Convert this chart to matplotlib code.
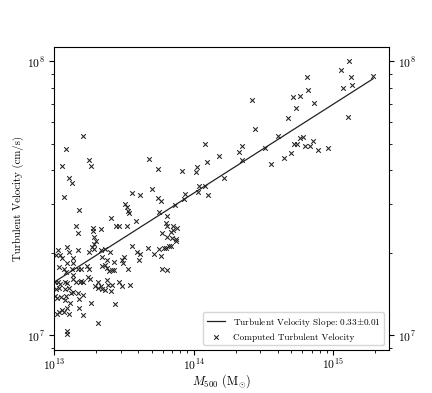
import numpy as np
import matplotlib
matplotlib.use("Agg")
import matplotlib.pyplot as plt

plt.rcParams['font.family'] = 'serif'
plt.rcParams['font.serif'] = ['cmr10', 'DejaVu Serif']
plt.rcParams['mathtext.fontset'] = 'cm'
plt.rcParams['axes.formatter.use_mathtext'] = True
plt.rcParams['font.size'] = 8.4

# log10 of M500 (Msun) for each cluster
log_mass = np.array([
    13.205, 13.087, 13.057, 13.253, 13.267, 13.109, 13.130, 13.074, 13.178, 13.682,
    13.746, 13.918, 14.026, 14.020, 14.082, 14.097, 14.183, 13.704, 13.560, 13.619,
    13.744, 13.765, 13.505, 13.523, 13.870, 13.939, 13.934, 14.038, 14.084, 14.034,
    14.101, 15.114, 15.056, 15.126, 15.286, 15.071, 15.131, 14.815, 14.818, 14.713,
    14.762, 14.734, 14.863, 14.677, 15.108, 14.416, 14.440, 14.606, 14.760, 14.781,
    14.856, 14.719, 14.743, 14.795, 14.835, 14.892, 14.966, 14.513, 14.699, 14.648,
    14.555, 14.326, 14.346, 14.348, 14.218, 13.410, 13.531, 13.540, 13.753, 13.812,
    13.589, 13.800, 13.807, 13.850, 13.878, 13.854, 13.841, 13.775, 13.807, 13.847,
    13.873, 13.877, 13.827, 13.836, 13.787, 13.805, 13.755, 13.674, 13.560, 13.593,
    13.618, 13.714, 13.768, 13.610, 13.501, 13.487, 13.492, 13.528, 13.775, 13.812,
    13.544, 13.520, 13.159, 13.170, 13.276, 13.278, 13.335, 13.441, 13.467, 13.288,
    13.299, 13.283, 13.273, 13.288, 13.254, 13.093, 13.104, 13.172, 13.029, 13.014,
    13.054, 13.045, 13.134, 13.136, 13.091, 13.129, 13.072, 13.084, 13.038, 13.172,
    13.191, 13.234, 13.248, 13.339, 13.367, 13.403, 13.344, 13.379, 13.344, 13.363,
    13.432, 13.429, 13.379, 13.394, 13.415, 13.134, 13.243, 13.005, 13.029, 13.043,
    13.077, 13.091, 13.138, 13.157, 13.186, 13.195, 13.205, 13.260, 13.315, 13.339,
    13.382, 13.387, 13.415, 13.296, 13.313, 13.344, 13.367, 13.406, 13.463, 13.487,
    13.081, 13.105, 13.136, 13.124, 13.172, 13.210, 13.014, 13.038, 13.009, 13.025,
    13.048, 13.086, 13.081, 13.181, 13.265, 13.117, 13.177, 13.439, 13.091, 13.057,
    13.038, 13.024, 13.072, 13.110, 13.210, 13.315, 13.093, 13.093,
])

# log10 of turbulent velocity (cm/s)
log_vel = np.array([
    7.726, 7.678, 7.616, 7.638, 7.618, 7.573, 7.557, 7.505, 7.457, 7.643,
    7.608, 7.599, 7.615, 7.596, 7.697, 7.633, 7.652, 7.532, 7.518, 7.511,
    7.499, 7.491, 7.477, 7.468, 7.476, 7.516, 7.496, 7.546, 7.545, 7.522,
    7.513, 8.001, 7.968, 7.944, 7.947, 7.901, 7.912, 7.941, 7.894, 7.868,
    7.874, 7.830, 7.848, 7.793, 7.797, 7.858, 7.751, 7.726, 7.718, 7.725,
    7.708, 7.698, 7.697, 7.689, 7.689, 7.675, 7.683, 7.683, 7.663, 7.646,
    7.623, 7.668, 7.690, 7.640, 7.574, 7.428, 7.454, 7.446, 7.451, 7.436,
    7.416, 7.408, 7.397, 7.397, 7.391, 7.384, 7.375, 7.373, 7.357, 7.354,
    7.342, 7.352, 7.324, 7.326, 7.318, 7.318, 7.313, 7.319, 7.326, 7.304,
    7.297, 7.296, 7.288, 7.275, 7.286, 7.274, 7.262, 7.242, 7.242, 7.237,
    7.184, 7.399, 7.397, 7.374, 7.390, 7.380, 7.386, 7.397, 7.398, 7.358,
    7.344, 7.331, 7.322, 7.313, 7.305, 7.321, 7.305, 7.312, 7.309, 7.293,
    7.282, 7.291, 7.280, 7.262, 7.263, 7.240, 7.241, 7.230, 7.248, 7.240,
    7.243, 7.254, 7.240, 7.310, 7.315, 7.305, 7.286, 7.274, 7.254, 7.255,
    7.266, 7.239, 7.245, 7.235, 7.239, 7.220, 7.213, 7.193, 7.193, 7.188,
    7.193, 7.192, 7.206, 7.195, 7.193, 7.196, 7.195, 7.206, 7.193, 7.181,
    7.200, 7.184, 7.184, 7.178, 7.172, 7.169, 7.166, 7.162, 7.193, 7.181,
    7.169, 7.172, 7.157, 7.152, 7.155, 7.147, 7.169, 7.172, 7.141, 7.136,
    7.138, 7.141, 7.127, 7.131, 7.116, 7.117, 7.099, 7.112, 7.099, 7.090,
    7.084, 7.077, 7.084, 7.077, 7.072, 7.045, 7.015, 7.005,
])

fit_slope = 0.325
fit_log_norm = 7.193  # log10 velocity at M500 = 1e13
fit_label = r"Turbulent Velocity Slope: 0.33$\pm$0.01"
data_label = "Computed Turbulent Velocity"

mass = 10 ** log_mass
vel = 10 ** log_vel

fig, ax = plt.subplots(figsize=(4.32, 3.93), dpi=100)

m_line = np.array([mass.min(), mass.max()])
v_line = 10 ** (fit_log_norm + fit_slope * (np.log10(m_line) - 13))
ax.plot(m_line, v_line, color='#222222', lw=0.9, label=fit_label)
ax.scatter(mass, vel, marker='x', color='#222222', s=11, linewidths=0.75, label=data_label)

ax.set_xscale('log')
ax.set_yscale('log')
ax.set_xlim(1e13, 2.5e15)
ax.set_ylim(8.84e6, 1.125e8)

ax.tick_params(which='both', right=True, labelright=True)
ax.tick_params(axis='x', pad=1.5)
ax.tick_params(axis='y', pad=3)
ax.set_xlabel(r"$M_{500}$ ($\mathrm{M}_{\odot}$)", fontsize=8.8, labelpad=0)
ax.set_ylabel("Turbulent Velocity (cm/s)", fontsize=7.8, labelpad=2)
ax.legend(loc='lower right', fontsize=6.6)

fig.savefig("out.png", dpi=100)
